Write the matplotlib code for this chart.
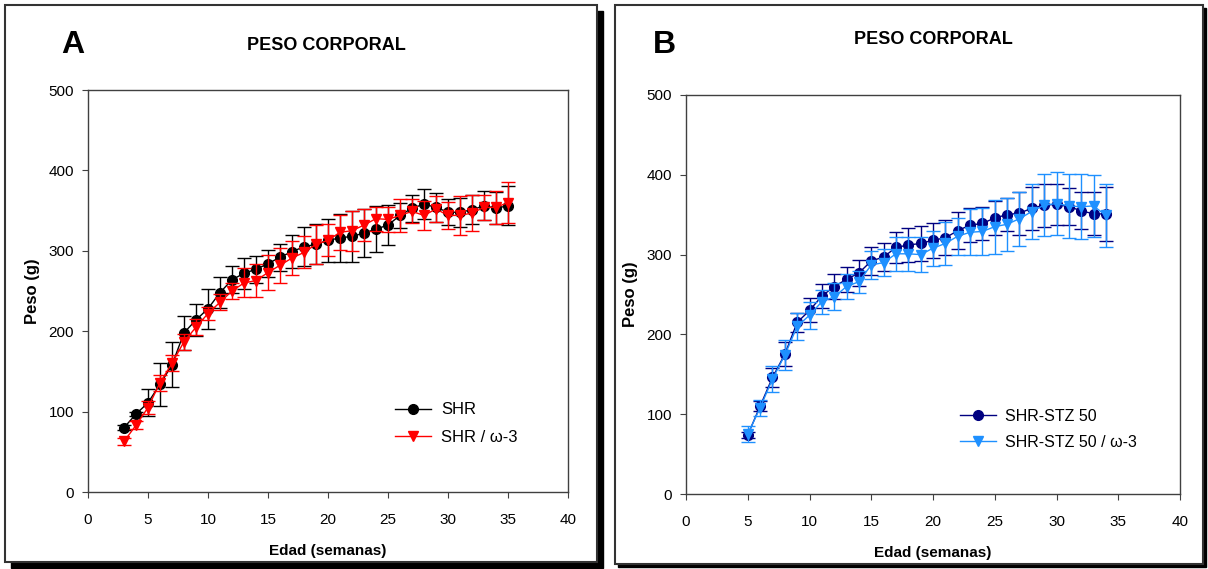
import matplotlib
matplotlib.use("Agg")
import matplotlib.pyplot as plt
from matplotlib.patches import Rectangle

plt.rcParams['font.family'] = ['Liberation Sans', 'DejaVu Sans']

# Panel A: SHR vs SHR / omega-3
weeks_a = list(range(3, 36))
shr_mean = [80, 97, 111, 134, 158, 198, 214, 228, 248, 264, 272, 277, 284, 292, 299, 305,
            308, 313, 316, 318, 322, 327, 332, 344, 353, 358, 354, 348, 348, 351, 356, 353, 356]
shr_sem = [3, 3, 17, 27, 28, 21, 20, 25, 19, 17, 19, 17, 17, 17, 21, 24,
           25, 27, 30, 32, 30, 29, 25, 16, 17, 19, 18, 16, 18, 18, 18, 20, 24]
shr_w3_mean = [63, 83, 105, 136, 160, 187, 205, 222, 236, 250, 260, 263, 273, 282, 291, 298,
               308, 313, 323, 325, 332, 340, 339, 344, 349, 344, 352, 344, 344, 347, 354, 354, 360]
shr_w3_sem = [4, 5, 8, 10, 10, 10, 10, 8, 10, 10, 18, 20, 22, 22, 21, 20,
              24, 20, 22, 25, 20, 15, 15, 20, 15, 18, 16, 17, 24, 22, 16, 21, 26]

# Panel B: SHR-STZ 50 vs SHR-STZ 50 / omega-3
weeks_b = list(range(5, 35))
stz_mean = [74, 110, 146, 175, 215, 230, 248, 260, 269, 277, 292, 297, 309, 312, 314,
            318, 321, 330, 337, 339, 346, 350, 352, 358, 362, 363, 360, 355, 351, 351]
stz_sem = [4, 6, 12, 15, 12, 15, 15, 16, 16, 16, 17, 17, 19, 21, 22,
           22, 22, 23, 21, 21, 21, 21, 27, 27, 27, 26, 23, 23, 27, 34]
stz_w3_mean = [75, 108, 144, 174, 210, 224, 241, 247, 260, 266, 287, 290, 301, 301, 300,
               308, 314, 323, 328, 329, 335, 338, 345, 354, 362, 364, 361, 360, 361, 349]
stz_w3_sem = [10, 10, 16, 19, 17, 17, 15, 17, 16, 14, 18, 17, 21, 21, 22,
              22, 27, 23, 29, 29, 34, 33, 34, 35, 39, 40, 40, 41, 39, 40]

W, H = 1208, 569
fig = plt.figure(figsize=(W / 100, H / 100), dpi=100)


def px_box(x0, y0, x1, y1):
    # pixel box (top-left origin) -> figure fraction rect
    return [x0 / W, 1 - y1 / H, (x1 - x0) / W, (y1 - y0) / H]


def frame(x0, y0, x1, y1, sh):
    r = px_box(x0, y0, x1, y1)
    fig.patches.append(Rectangle((r[0] + sh / W, r[1] - sh / H), r[2], r[3],
                                 transform=fig.transFigure, facecolor="black",
                                 edgecolor="black", zorder=0))
    fig.patches.append(Rectangle((r[0], r[1]), r[2], r[3], transform=fig.transFigure,
                                 facecolor="white", edgecolor="#333333", lw=1.5, zorder=1))


frame(5, 5, 597, 562, 6)
frame(615, 5, 1203, 564, 3)


def style_axes(ax):
    ax.set_xlim(0, 40)
    ax.set_ylim(0, 500)
    ax.set_xticks(range(0, 41, 5))
    ax.set_yticks(range(0, 501, 100))
    for s in ax.spines.values():
        s.set_color("#404040")
        s.set_linewidth(1.0)
    ax.tick_params(direction="out", length=4, width=0.8, color="#404040",
                   labelsize=11)
    ax.tick_params(axis="x", pad=11)
    ax.tick_params(axis="y", pad=6)
    ax.set_xlabel("Edad (semanas)", fontsize=11, fontweight="bold", labelpad=12)
    ax.set_ylabel("Peso (g)", fontsize=12, fontweight="bold", labelpad=6)


def series(ax, x, y, err, color, marker, label):
    ax.errorbar(x, y, yerr=err, color=color, fmt="none", elinewidth=1,
                capsize=5, capthick=1)
    ax.plot(x, y, color=color, marker=marker, markersize=7, lw=1, label=label)


ax1 = fig.add_axes(px_box(88, 90, 568, 492))
ax1.set_zorder(2)
series(ax1, weeks_a, shr_mean, shr_sem, "black", "o", "SHR")
series(ax1, weeks_a, shr_w3_mean, shr_w3_sem, "red", "v", "SHR / \u03c9-3")
style_axes(ax1)
ax1.legend(loc="lower right", bbox_to_anchor=(0.927, 0.08), frameon=False, fontsize=12,
           handlelength=2.2, handletextpad=0.6, labelspacing=0.75)

ax2 = fig.add_axes(px_box(686, 95, 1180, 494))
ax2.set_zorder(2)
series(ax2, weeks_b, stz_mean, stz_sem, "#000080", "o", "SHR-STZ 50")
series(ax2, weeks_b, stz_w3_mean, stz_w3_sem, "#1E90FF", "v", "SHR-STZ 50 / \u03c9-3")
style_axes(ax2)
ax2.legend(loc="lower right", bbox_to_anchor=(0.942, 0.075), frameon=False, fontsize=11.5,
           handlelength=2.2, handletextpad=0.6, labelspacing=0.7)

fig.text(73 / W, 1 - 45 / H, "A", fontsize=23, fontweight="bold", ha="center", va="center", zorder=5)
fig.text(326 / W, 1 - 46 / H, "PESO CORPORAL", fontsize=13, fontweight="bold",
         ha="center", va="center", zorder=5)
fig.text(664 / W, 1 - 45 / H, "B", fontsize=23, fontweight="bold", ha="center", va="center", zorder=5)
fig.text(933 / W, 1 - 40 / H, "PESO CORPORAL", fontsize=13, fontweight="bold",
         ha="center", va="center", zorder=5)

fig.savefig("out.png", dpi=100)
